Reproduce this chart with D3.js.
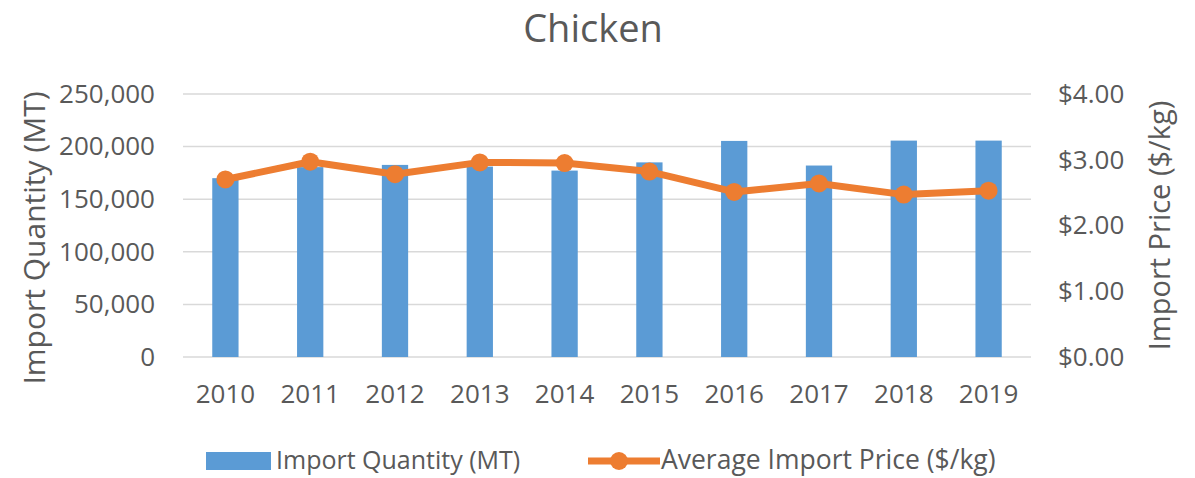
<!DOCTYPE html>
<html>
<head>
<meta charset="utf-8">
<script src="https://cdn.jsdelivr.net/npm/d3@7"></script>
<style>
    body { margin: 0; background: #fff; }
    text { font-family: "Open Sans", sans-serif; fill: #595959; }
</style>
</head>
<body>
<div id="chart"></div>
<script>
// Chart data
const years = ["2010", "2011", "2012", "2013", "2014", "2015", "2016", "2017", "2018", "2019"];
const importQuantity = [170000, 180500, 182600, 181000, 177200, 185000, 205400, 182000, 205700, 205700];
const importPrice = [2.70, 2.97, 2.78, 2.96, 2.95, 2.82, 2.51, 2.64, 2.47, 2.53];
const qtyTicks = [0, 50000, 100000, 150000, 200000, 250000];
const priceTicks = [0, 1, 2, 3, 4];

const width = 1195, height = 478;
const margin = {top: 94, right: 164, bottom: 121, left: 183};
const innerW = width - margin.left - margin.right;
const innerH = height - margin.top - margin.bottom;

const barColor = "#5B9BD5";
const lineColor = "#ED7D31";

let svg = d3.select("#chart").append("svg")
    .attr("width", width)
    .attr("height", height);

// Title
svg.append("text")
    .attr("x", 593)
    .attr("y", 42)
    .attr("text-anchor", "middle")
    .style("font-size", "38px")
    .text("Chicken");

let g = svg.append("g")
    .attr("transform", `translate(${margin.left}, ${margin.top})`);

// Scales
let x = d3.scaleBand()
    .domain(years)
    .range([0, innerW])
    .paddingInner(0.69)
    .paddingOuter(0.345);

let yQty = d3.scaleLinear().domain([0, 250000]).range([innerH, 0]);
let yPrice = d3.scaleLinear().domain([0, 4]).range([innerH, 0]);

// Gridlines
g.append("g")
    .selectAll("line")
    .data(qtyTicks)
    .enter().append("line")
    .attr("x1", 0)
    .attr("x2", innerW)
    .attr("y1", d => yQty(d))
    .attr("y2", d => yQty(d))
    .attr("stroke", "#D9D9D9")
    .attr("stroke-width", 1.5);

// Left axis
let leftAxis = g.append("g")
    .call(d3.axisLeft(yQty).tickValues(qtyTicks).tickSize(0).tickPadding(28)
        .tickFormat(d3.format(",")));
leftAxis.select(".domain").remove();
leftAxis.selectAll("text").style("font-size", "26px").attr("fill", "#595959");

// Right axis
let rightAxis = g.append("g")
    .attr("transform", `translate(${innerW}, 0)`)
    .call(d3.axisRight(yPrice).tickValues(priceTicks).tickSize(0).tickPadding(27)
        .tickFormat(d => "$" + d3.format(".2f")(d)));
rightAxis.select(".domain").remove();
rightAxis.selectAll("text").style("font-size", "26px").attr("fill", "#595959");

// Bottom axis
let bottomAxis = g.append("g")
    .attr("transform", `translate(0, ${innerH})`)
    .call(d3.axisBottom(x).tickSize(0).tickPadding(28));
bottomAxis.select(".domain").remove();
bottomAxis.selectAll("text").style("font-size", "26px").attr("fill", "#595959");

// Bars
g.append("g")
    .selectAll("rect")
    .data(years)
    .enter().append("rect")
    .attr("x", d => x(d))
    .attr("width", x.bandwidth())
    .attr("y", (d, i) => yQty(importQuantity[i]))
    .attr("height", (d, i) => innerH - yQty(importQuantity[i]))
    .attr("fill", barColor);

// Price line
let line = d3.line()
    .x((d, i) => x(years[i]) + x.bandwidth() / 2)
    .y(d => yPrice(d));

g.append("path")
    .datum(importPrice)
    .attr("d", line)
    .attr("fill", "none")
    .attr("stroke", lineColor)
    .attr("stroke-width", 7)
    .attr("stroke-linejoin", "round");

g.append("g")
    .selectAll("circle")
    .data(importPrice)
    .enter().append("circle")
    .attr("cx", (d, i) => x(years[i]) + x.bandwidth() / 2)
    .attr("cy", d => yPrice(d))
    .attr("r", 9)
    .attr("fill", lineColor);

// Axis titles
svg.append("text")
    .attr("transform", "translate(45, 238) rotate(-90)")
    .attr("text-anchor", "middle")
    .style("font-size", "30px")
    .text("Import Quantity (MT)");

svg.append("text")
    .attr("transform", `translate(1170, ${margin.top + innerH / 2}) rotate(-90)`)
    .attr("text-anchor", "middle")
    .style("font-size", "29px")
    .text("Import Price ($/kg)");

// Legend
let legend = svg.append("g").attr("class", "legend");

legend.append("rect")
    .attr("x", 206)
    .attr("y", 452)
    .attr("width", 65)
    .attr("height", 18)
    .attr("fill", barColor);

legend.append("text")
    .attr("x", 276)
    .attr("y", 469)
    .style("font-size", "25px")
    .text("Import Quantity (MT)");

legend.append("line")
    .attr("x1", 588)
    .attr("x2", 660)
    .attr("y1", 461)
    .attr("y2", 461)
    .attr("stroke", lineColor)
    .attr("stroke-width", 7);

legend.append("circle")
    .attr("cx", 619)
    .attr("cy", 461)
    .attr("r", 9)
    .attr("fill", lineColor);

legend.append("text")
    .attr("x", 661)
    .attr("y", 469)
    .style("font-size", "26.5px")
    .text("Average Import Price ($/kg)");
</script>
</body>
</html>
